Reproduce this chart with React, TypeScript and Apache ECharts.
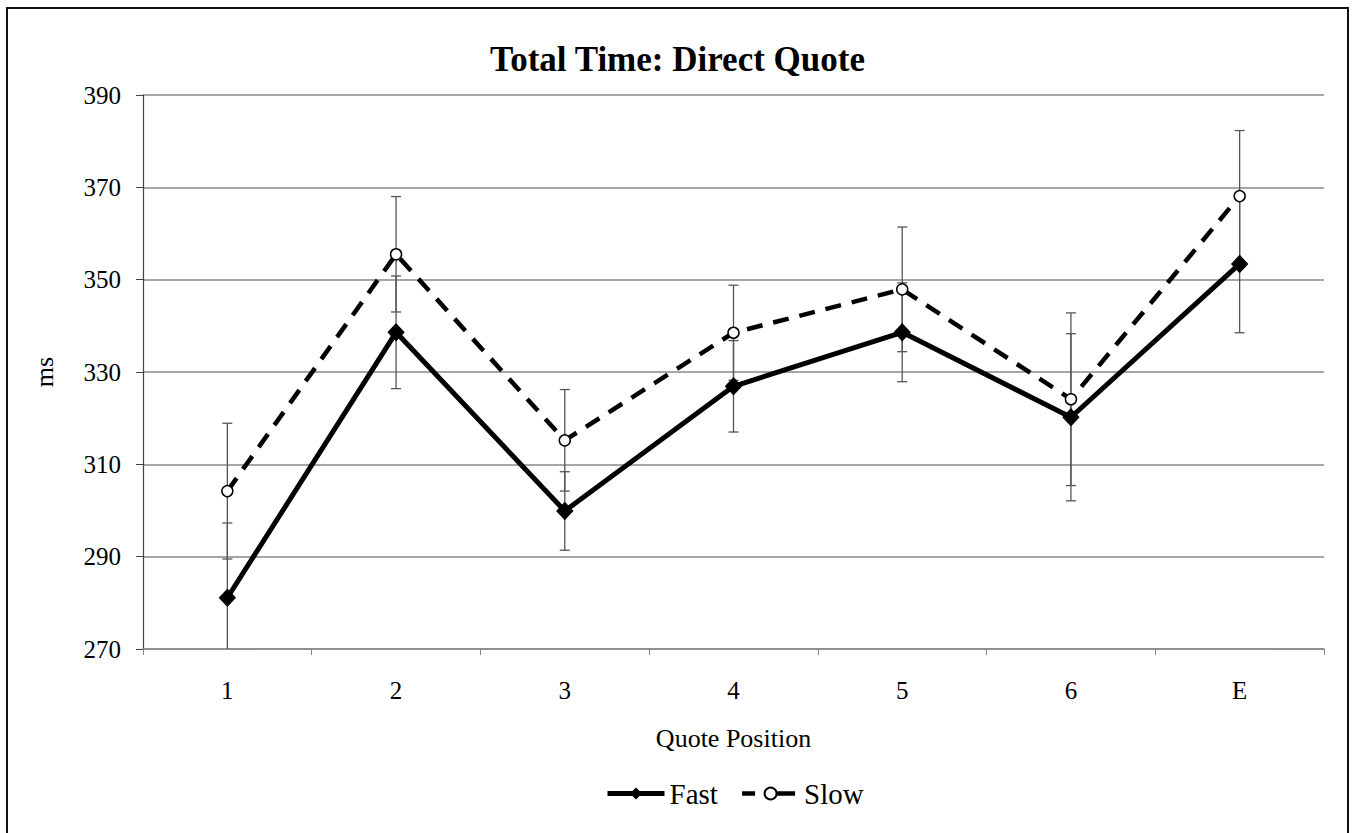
import React, { useEffect, useRef } from "react";
import * as echarts from "echarts";

const categories = ["1", "2", "3", "4", "5", "6", "E"];
const fastValues = [281.1, 338.6, 299.9, 326.9, 338.6, 320.2, 353.4];
const fastErrors = [16.2, 12.2, 8.5, 9.9, 10.7, 18.1, 14.9];
const slowValues = [304.2, 355.5, 315.2, 338.5, 347.9, 324.1, 368.1];
const slowErrors = [14.7, 12.5, 11.0, 10.3, 13.5, 18.7, 14.2];
const yMin = 270;
const yMax = 390;
const yInterval = 20;

const FONT = "'Liberation Serif', 'Times New Roman', serif";

function errorSeries(name: string, values: number[], errors: number[]) {
  const data = values.map((v, i) => [i, v - errors[i], v + errors[i]]);
  return {
    type: "custom",
    name: name + " error",
    z: 1,
    silent: true,
    data,
    renderItem: (params: any, api: any) => {
      const idx = api.value(0);
      let lo = api.value(1);
      let hi = api.value(2);
      const loClipped = lo < yMin;
      const hiClipped = hi > yMax;
      lo = Math.max(lo, yMin);
      hi = Math.min(hi, yMax);
      const pLo = api.coord([idx, lo]);
      const pHi = api.coord([idx, hi]);
      const x = pLo[0];
      const hw = 5;
      const style = { stroke: "#555", lineWidth: 1.3 };
      const children: any[] = [
        { type: "line", shape: { x1: x, y1: pLo[1], x2: x, y2: pHi[1] }, style },
      ];
      if (!loClipped) children.push({ type: "line", shape: { x1: x - hw, y1: pLo[1], x2: x + hw, y2: pLo[1] }, style });
      if (!hiClipped) children.push({ type: "line", shape: { x1: x - hw, y1: pHi[1], x2: x + hw, y2: pHi[1] }, style });
      return { type: "group", children };
    },
  };
}

export default function App() {
  const ref = useRef<HTMLDivElement>(null);
  useEffect(() => {
    if (!ref.current) return;
    const chart = echarts.init(ref.current, null, { renderer: "svg" });
    chart.setOption({
      animation: false,
      backgroundColor: "#ffffff",
      textStyle: { fontFamily: FONT },
      title: {
        text: "Total Time: Direct Quote",
        left: "center",
        top: 37,
        textStyle: { fontFamily: FONT, fontSize: 35, fontWeight: "bold", color: "#000" },
      },
      grid: { left: 143, right: 31, top: 95, bottom: 184 },
      legend: {
        data: [
          { name: "Fast", lineStyle: { width: 5 } },
          { name: "Slow", lineStyle: { type: [13, 10, 30], width: 4.5 } },
        ],
        left: 600,
        top: 774,
        itemWidth: 57,
        itemHeight: 15,
        itemGap: 22,
        textStyle: { fontFamily: FONT, fontSize: 29, color: "#000" },
      },
      xAxis: {
        type: "category",
        data: categories,
        name: "Quote Position",
        nameLocation: "middle",
        nameGap: 76,
        nameTextStyle: { fontFamily: FONT, fontSize: 26, color: "#000" },
        axisLine: { lineStyle: { color: "#888", width: 1.5 } },
        axisTick: { show: true, length: 6, lineStyle: { color: "#888" } },
        axisLabel: { fontFamily: FONT, fontSize: 25, color: "#000", margin: 29 },
      },
      yAxis: {
        type: "value",
        min: yMin,
        max: yMax,
        interval: yInterval,
        name: "ms",
        nameLocation: "middle",
        nameGap: 86,
        nameRotate: 90,
        nameTextStyle: { fontFamily: FONT, fontSize: 26, color: "#000" },
        axisLine: { show: true, lineStyle: { color: "#444", width: 1.2 } },
        axisTick: { show: true, length: 7, lineStyle: { color: "#444" } },
        axisLabel: { fontFamily: FONT, fontSize: 25, color: "#000", margin: 22 },
        splitLine: { show: true, lineStyle: { color: "#888", width: 1.5 } },
      },
      series: [
        errorSeries("Fast", fastValues, fastErrors),
        errorSeries("Slow", slowValues, slowErrors),
        {
          name: "Slow",
          type: "line",
          z: 3,
          data: slowValues,
          symbol: "circle",
          symbolSize: 11,
          lineStyle: { color: "#000", width: 4.5, type: [16, 11] },
          itemStyle: { color: "#fff", borderColor: "#000", borderWidth: 1.5 },
        },
        {
          name: "Fast",
          type: "line",
          z: 4,
          data: fastValues,
          symbol: "diamond",
          symbolSize: [16, 17],
          lineStyle: { color: "#000", width: 5 },
          itemStyle: { color: "#000", borderColor: "#000" },
        },
      ],
      graphic: [
        {
          type: "rect",
          shape: { x: 7, y: 8, width: 1341, height: 900 },
          style: { fill: "none", stroke: "#111", lineWidth: 2 },
          silent: true,
          z: 100,
        },
      ],
    });
    return () => chart.dispose();
  }, []);
  return (
    <div
      ref={ref}
      style={{ position: "fixed", left: 0, top: 0, width: 1355, height: 833, background: "#fff" }}
    />
  );
}
